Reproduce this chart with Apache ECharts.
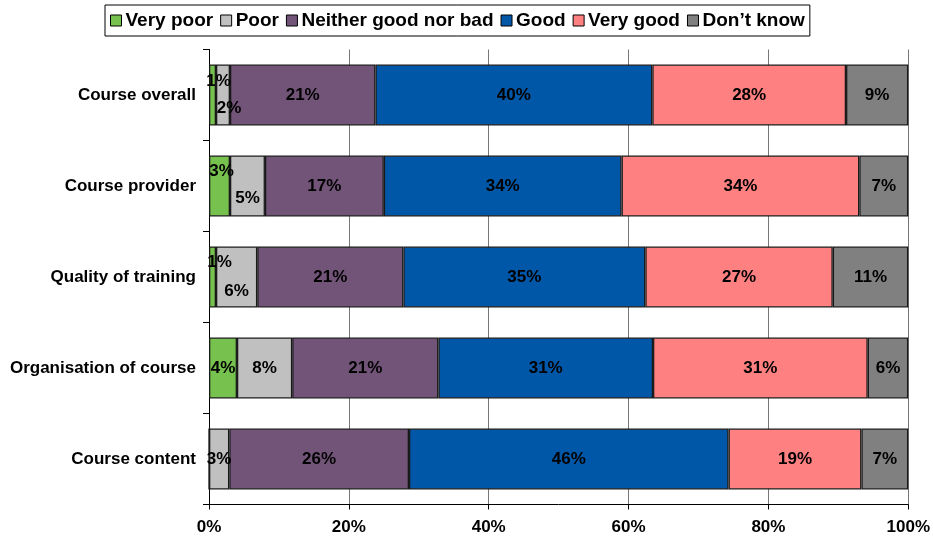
<!DOCTYPE html>
<html>
<head>
<meta charset="utf-8">
<script src="https://cdn.jsdelivr.net/npm/echarts@6/dist/echarts.min.js"></script>
<style>
  html, body { margin: 0; padding: 0; background: #fff; }
  #chart { width: 933px; height: 541px; }
</style>
</head>
<body>
<div id="chart"></div>
<script>
// Survey ratings, percentage of respondents per aspect
const categories = ['Course overall', 'Course provider', 'Quality of training', 'Organisation of course', 'Course content'];
const veryPoor = [1.0, 3.0, 1.0, 4.0, 0];
const poor     = [2.0, 5.0, 5.9, 7.9, 2.9];
const neither  = [20.8, 17.0, 20.9, 20.9, 25.7];
const good     = [39.6, 34.0, 34.6, 30.7, 45.7];
const veryGood = [27.7, 34.0, 26.8, 30.7, 19.0];
const dontKnow = [8.9, 7.0, 10.8, 5.8, 6.7];
const xTicks = [0, 20, 40, 60, 80, 100];

const seriesDefs = [
  { name: 'Very poor', data: veryPoor, color: '#77C24E' },
  { name: 'Poor', data: poor, color: '#C0C0C0' },
  { name: 'Neither good nor bad', data: neither, color: '#725479' },
  { name: 'Good', data: good, color: '#0057A8' },
  { name: 'Very good', data: veryGood, color: '#FF8080' },
  { name: 'Don\u2019t know', data: dontKnow, color: '#808080' }
];

// labels of narrow segments are pushed up / down so they don't collide
const nudges = {
  'Very poor': { 0: [6, -14], 1: [2, -15], 2: [7, -15] },
  'Poor': { 0: [6, 13], 1: [0, 12], 2: [0, 14] }
};

const FONT = '"Liberation Sans", Arial, sans-serif';

const series = seriesDefs.map(def => ({
  name: def.name,
  type: 'bar',
  stack: 'total',
  barWidth: 61,
  itemStyle: { color: def.color, borderColor: '#1a1a1a', borderWidth: 1.3 },
  label: {
    show: true,
    position: 'inside',
    color: '#000',
    fontFamily: FONT,
    fontWeight: 'bold',
    fontSize: 17,
    formatter: p => p.value > 0 ? Math.round(p.value) + '%' : ''
  },
  data: def.data.map((v, i) => {
    const n = nudges[def.name] && nudges[def.name][i];
    return n ? { value: v, label: { offset: n } } : v;
  })
}));

const chart = echarts.init(document.getElementById('chart'), null, { renderer: 'canvas' });
chart.setOption({
  animation: false,
  backgroundColor: '#fff',
  legend: {
    left: 105,
    top: 5,
    padding: [6, 5, 6, 5],
    borderColor: '#000',
    borderWidth: 1,
    itemWidth: 11,
    itemHeight: 11,
    itemGap: 7,
    icon: 'rect',
    itemStyle: { borderColor: '#000', borderWidth: 1 },
    textStyle: { fontFamily: FONT, fontWeight: 'bold', fontSize: 19, color: '#000', padding: [0, 0, 0, -1] },
    data: seriesDefs.map(d => d.name)
  },
  grid: { left: 209, right: 24, top: 49.5, bottom: 36.5, containLabel: false },
  xAxis: {
    type: 'value',
    min: xTicks[0],
    max: xTicks[xTicks.length - 1],
    interval: xTicks[1] - xTicks[0],
    axisLine: { show: true, lineStyle: { color: '#000', width: 1 } },
    axisTick: { show: true, length: 5, inside: false, lineStyle: { color: '#000' } },
    splitLine: { show: true, lineStyle: { color: '#777', width: 1 } },
    axisLabel: {
      margin: 14,
      fontFamily: FONT, fontWeight: 'bold', fontSize: 17, color: '#000',
      formatter: v => v + '%'
    }
  },
  yAxis: {
    type: 'category',
    inverse: true,
    data: categories,
    axisLine: { show: true, lineStyle: { color: '#000', width: 1 } },
    axisTick: { show: true, length: 6, lineStyle: { color: '#000' } },
    axisLabel: { margin: 13, fontFamily: FONT, fontWeight: 'bold', fontSize: 17, color: '#000' }
  },
  series: series
});
</script>
</body>
</html>
